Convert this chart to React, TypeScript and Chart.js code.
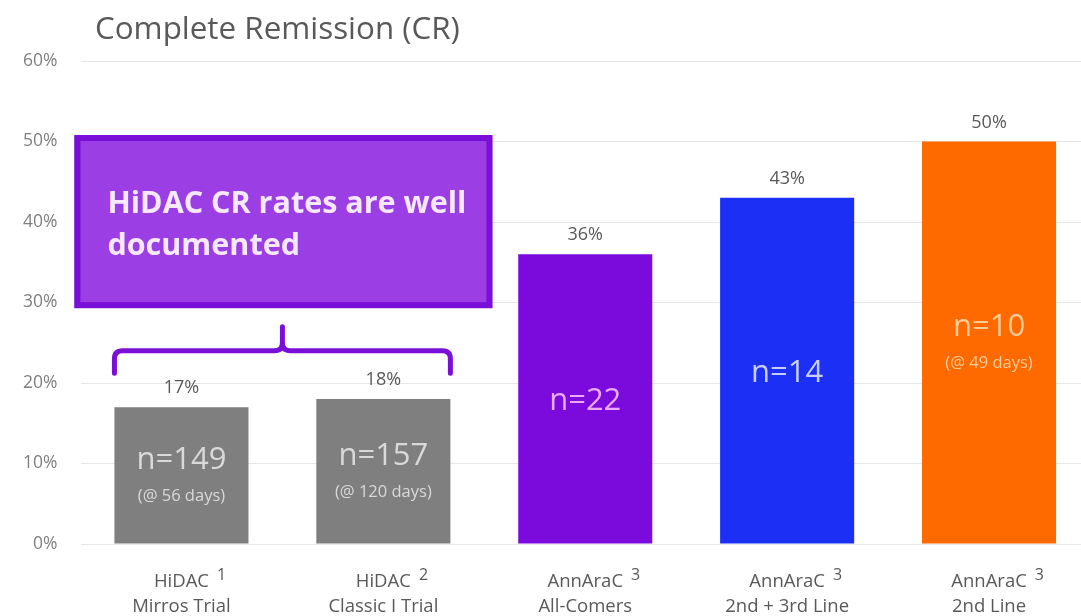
import React, { useEffect, useRef } from "react";
import { Chart, registerables } from "chart.js";

Chart.register(...registerables);

// ---- data ----
const categories = ["HiDAC", "HiDAC", "AnnAraC", "AnnAraC", "AnnAraC"];
const refMarks = ["1", "2", "3", "3", "3"];
const subtitles = ["Mirros Trial", "Classic I Trial", "All-Comers", "2nd + 3rd Line", "2nd Line"];
const crRates = [17, 18, 36, 43, 50];
const sampleSizes = ["n=149", "n=157", "n=22", "n=14", "n=10"];
const followUps = ["(@ 56 days)", "(@ 120 days)", "", "", "(@ 49 days)"];
const yTickValues = [0, 10, 20, 30, 40, 50, 60];
const chartTitle = "Complete Remission (CR)";
const calloutLines = ["HiDAC CR rates are well", "documented"];

// ---- styling ----
const barColors = ["#7f7f7f", "#7f7f7f", "#7a0bdc", "#1c2ff4", "#ff6a00"];
const innerTextColors = ["#d9d9d9", "#d9d9d9", "#eaa8ff", "#c9ceff", "#ffcc96"];
const FONT = "'Open Sans', 'DejaVu Sans', sans-serif";
const TEXT_GRAY = "#595959";
const CALLOUT_FILL = "#9b3fe4";
const CALLOUT_EDGE = "#7a10d8";

const W = 1092;
const H = 616;

function fitFont(ctx: CanvasRenderingContext2D, text: string, weight: string, targetWidth: number) {
  ctx.font = `${weight} 100px ${FONT}`;
  const w = ctx.measureText(text).width;
  return (100 * targetWidth) / w;
}

const overlayPlugin = {
  id: "overlay",
  afterDraw(chart: any) {
    const ctx: CanvasRenderingContext2D = chart.ctx;
    const xs = chart.scales.x;
    const ys = chart.scales.y;
    const meta = chart.getDatasetMeta(0);
    ctx.save();

    // title
    const ts = fitFont(ctx, chartTitle, "400", 365);
    ctx.font = `400 ${ts}px ${FONT}`;
    ctx.fillStyle = TEXT_GRAY;
    ctx.textAlign = "left";
    ctx.textBaseline = "alphabetic";
    ctx.fillText(chartTitle, 95, 39);

    // value labels and inner labels
    meta.data.forEach((bar: any, i: number) => {
      const cx = bar.x;
      const top = bar.y;
      const bottom = bar.base;
      ctx.textAlign = "center";
      ctx.textBaseline = "middle";
      ctx.font = `400 18px ${FONT}`;
      ctx.fillStyle = TEXT_GRAY;
      ctx.fillText(`${crRates[i]}%`, cx, top - 19);

      const mid = (top + bottom) / 2;
      ctx.fillStyle = innerTextColors[i];
      if (followUps[i]) {
        ctx.font = `400 31px ${FONT}`;
        ctx.fillText(sampleSizes[i], cx, mid - 15);
        ctx.font = `400 16.5px ${FONT}`;
        ctx.fillText(followUps[i], cx, mid + 21);
      } else {
        ctx.font = `400 31px ${FONT}`;
        ctx.fillText(sampleSizes[i], cx, mid + 2);
      }
    });

    // category labels with reference superscripts
    categories.forEach((cat, i) => {
      const cx = xs.getPixelForValue(i);
      ctx.fillStyle = TEXT_GRAY;
      ctx.textAlign = "center";
      ctx.textBaseline = "alphabetic";
      ctx.font = `400 18.5px ${FONT}`;
      ctx.fillText(cat, cx, 587);
      const half = ctx.measureText(cat).width / 2;
      ctx.fillText(subtitles[i], cx, 612);
      ctx.textAlign = "left";
      ctx.font = `400 16px ${FONT}`;
      ctx.fillText(refMarks[i], cx + half + 8, 580);
    });

    // callout box
    const b0 = meta.data[0];
    const b1 = meta.data[1];
    const bl = b0.x - b0.width / 2;
    const br = b1.x + b1.width / 2;
    const boxL = bl - 40;
    const boxR = br + 42;
    const boxT = ys.getPixelForValue(50.8);
    const boxB = ys.getPixelForValue(29.3);
    ctx.fillStyle = CALLOUT_FILL;
    ctx.fillRect(boxL, boxT, boxR - boxL, boxB - boxT);
    ctx.strokeStyle = CALLOUT_EDGE;
    ctx.lineWidth = 6;
    ctx.strokeRect(boxL + 3, boxT + 3, boxR - boxL - 6, boxB - boxT - 6);

    const cs = fitFont(ctx, calloutLines[0], "700", 359);
    ctx.font = `700 ${cs}px ${FONT}`;
    ctx.fillStyle = "#f6e8ff";
    ctx.textAlign = "left";
    ctx.textBaseline = "middle";
    ctx.fillText(calloutLines[0], boxL + 33, boxT + 69);
    ctx.fillText(calloutLines[1], boxL + 33, boxT + 111);

    // brace under the callout
    const yLine = ys.getPixelForValue(24.0);
    const yEnd = ys.getPixelForValue(21.2);
    const yStem = ys.getPixelForValue(27.0);
    const midX = (bl + br) / 2;
    const r = 8;
    ctx.strokeStyle = CALLOUT_EDGE;
    ctx.lineWidth = 5;
    ctx.lineCap = "round";
    ctx.lineJoin = "round";
    ctx.beginPath();
    ctx.moveTo(bl, yEnd);
    ctx.lineTo(bl, yLine + r);
    ctx.quadraticCurveTo(bl, yLine, bl + r, yLine);
    ctx.lineTo(midX - r, yLine);
    ctx.quadraticCurveTo(midX, yLine, midX, yLine - r);
    ctx.lineTo(midX, yStem);
    ctx.moveTo(midX, yLine - r);
    ctx.quadraticCurveTo(midX, yLine, midX + r, yLine);
    ctx.lineTo(br - r, yLine);
    ctx.quadraticCurveTo(br, yLine, br, yLine + r);
    ctx.lineTo(br, yEnd);
    ctx.stroke();

    ctx.restore();
  },
};

export default function App() {
  const canvasRef = useRef<HTMLCanvasElement | null>(null);

  useEffect(() => {
    if (!canvasRef.current) return;
    const chart = new Chart(canvasRef.current, {
      type: "bar",
      data: {
        labels: categories.map((c, i) => `${c} ${refMarks[i]} ${subtitles[i]}`),
        datasets: [
          {
            data: crRates,
            backgroundColor: barColors,
            borderWidth: 0,
            barPercentage: 0.664,
            categoryPercentage: 1,
          },
        ],
      },
      options: {
        responsive: false,
        animation: false,
        devicePixelRatio: 1,
        layout: { padding: { top: 61, right: 2, left: 0, bottom: 0 } },
        plugins: {
          legend: { display: false },
          tooltip: { enabled: false },
          title: { display: false },
        },
        scales: {
          x: {
            grid: { display: false },
            border: { display: false },
            ticks: { display: false },
            afterFit: (scale: any) => {
              scale.height = H - 544;
            },
          },
          y: {
            min: 0,
            max: 60,
            afterBuildTicks: (scale: any) => {
              scale.ticks = yTickValues.map((v) => ({ value: v }));
            },
            grid: { color: "#e6e6e6", lineWidth: 1, drawTicks: false },
            border: { display: false },
            ticks: {
              padding: 23,
              color: "#7f7f7f",
              font: { family: FONT, size: 17.5 },
              callback: (v: any) => `${v}%`,
            },
            afterFit: (scale: any) => {
              scale.width = 80.5;
            },
          },
        },
      },
      plugins: [overlayPlugin],
    });
    return () => chart.destroy();
  }, []);

  return (
    <div
      style={{
        position: "fixed",
        left: 0,
        top: 0,
        width: 1081,
        height: 616,
        overflow: "hidden",
        background: "#ffffff",
      }}
    >
      <canvas ref={canvasRef} width={W} height={H} style={{ width: W, height: H, display: "block" }} />
    </div>
  );
}
